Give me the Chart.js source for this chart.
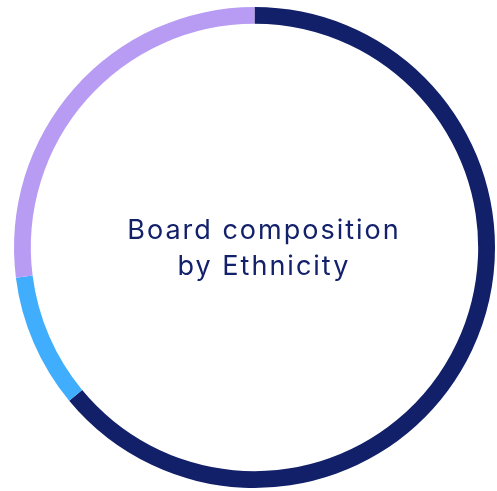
<!DOCTYPE html>
<html>
<head>
<meta charset="utf-8">
<script src="https://cdn.jsdelivr.net/npm/chart.js@4"></script>
<style>
  html, body { margin: 0; padding: 0; background: #fff; }
  #wrap { position: relative; width: 497px; height: 491px; }
  #center-label {
    position: absolute;
    left: 264px; top: 248px;
    transform: translate(-50%, -50%);
    text-align: center;
    font-family: Inter, "Noto Sans", sans-serif;
    font-size: 27px;
    letter-spacing: 2px;
    line-height: 36px;
    color: #13216a;
    white-space: nowrap;
  }
</style>
</head>
<body>
<div id="wrap">
  <canvas id="ring" width="497" height="491"></canvas>
  <div id="center-label">Board composition<br>by Ethnicity</div>
</div>
<script>
// Ethnicity shares (percent), read from the ring
const categories = ['Group A', 'Group B', 'Group C'];
const shares = [64, 9, 27];
const colours = ['#121f69', '#40aefc', '#b89cf4'];

document.addEventListener('DOMContentLoaded', () => {
    const ctx = document.getElementById('ring').getContext('2d');
    new Chart(ctx, {
        type: 'doughnut',
        data: {
            labels: categories,
            datasets: [{
                data: shares,
                backgroundColor: colours,
                borderWidth: 0
            }]
        },
        options: {
            responsive: false,
            animation: false,
            cutout: '93%',
            layout: { padding: { left: 14, right: 2, top: 7, bottom: 3 } },
            plugins: {
                legend: { display: false },
                tooltip: { enabled: false }
            }
        }
    });
});
</script>
</body>
</html>
